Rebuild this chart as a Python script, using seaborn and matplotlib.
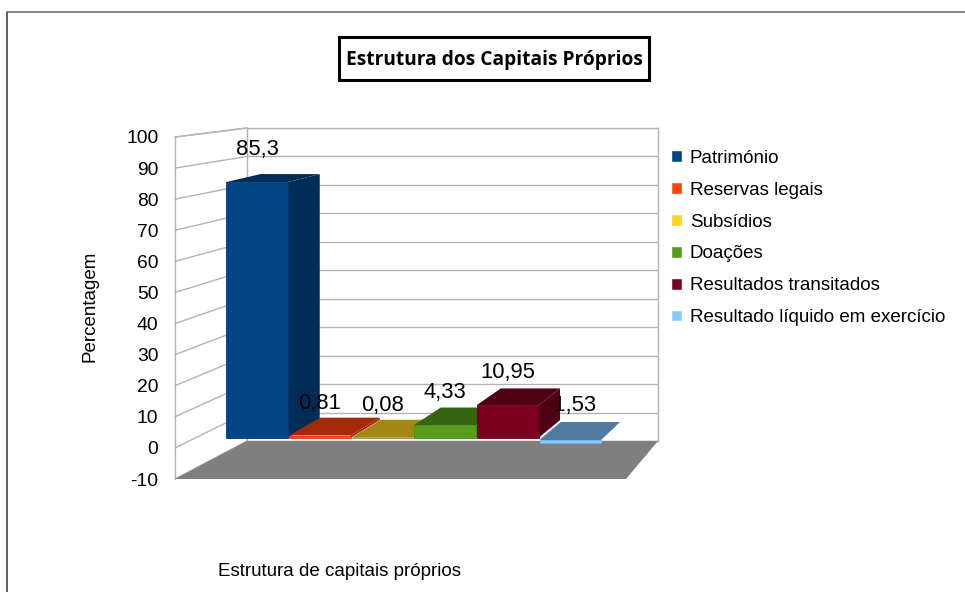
import matplotlib
matplotlib.use("Agg")
import matplotlib.pyplot as plt
import seaborn as sns
import pandas as pd
from matplotlib.patches import ConnectionPatch, Polygon, Rectangle
from matplotlib.lines import Line2D
from matplotlib.transforms import IdentityTransform

categorias = ["Património", "Reservas legais", "Subsídios", "Doações",
              "Resultados transitados", "Resultado líquido em exercício"]
valores = [85.3, 0.81, 0.08, 4.33, 10.95, -1.53]
cores_frente = ["#004586", "#ff420e", "#ffd320", "#579d1c", "#7e0021", "#83caff"]
cores_topo = ["#002d58", "#a32b09", "#a38714", "#386512", "#4f0015", "#4f7ba0"]
cores_lado = ["#002d58", "#a32b09", "#a38714", "#386512", "#4f0015", "#4f7ba0"]
cores_borda = ["#003a72", "#e83a0c", "#a38714", "#4a8a18", "#6e001c", "#6db4ea"]
marcas_y = list(range(-10, 101, 10))

titulo = "Estrutura dos Capitais Próprios"
rotulo_x = "Estrutura de capitais próprios"
rotulo_y = "Percentagem"

W, H = 965, 592
sns.set_theme(style="white")
plt.rcParams["font.family"] = ["Liberation Sans", "DejaVu Sans"]
plt.rcParams["axes.unicode_minus"] = False
COR_GRELHA = "#b3b3b3"
FS = 13.5

fig = plt.figure(figsize=(W / 100, H / 100), dpi=100, facecolor="white")


def caixa(x0, ytop, x1, ybot):
    """Axes rectangle from pixel edges (origin top-left)."""
    return [x0 / W, 1 - ybot / H, (x1 - x0) / W, (ybot - ytop) / H]


# back wall
ax_fundo = fig.add_axes(caixa(247, 128, 658, 441), zorder=1)
ax_fundo.set_ylim(-10, 100)
ax_fundo.set_xlim(0, 1)
ax_fundo.set_yticks(marcas_y)
ax_fundo.set_xticks([])
ax_fundo.tick_params(labelleft=False, length=0)
ax_fundo.grid(axis="y", color=COR_GRELHA, lw=1)
ax_fundo.set_axisbelow(True)
for s in ax_fundo.spines.values():
    s.set_color(COR_GRELHA)
    s.set_linewidth(1)

# front plane: carries the value axis
ax_frente = fig.add_axes(caixa(175, 137, 626, 479), zorder=2)
ax_frente.patch.set_alpha(0)
ax_frente.set_ylim(-10, 100)
ax_frente.set_xlim(0, 1)
ax_frente.set_yticks(marcas_y)
ax_frente.set_xticks([])
ax_frente.tick_params(axis="y", length=0, pad=12, labelsize=13.9, labelcolor="black")
for nome, s in ax_frente.spines.items():
    s.set_visible(nome == "left")
    s.set_color(COR_GRELHA)
    s.set_linewidth(1)
ax_frente.set_ylabel(rotulo_y, fontsize=FS, color="black")
ax_frente.yaxis.set_label_coords((99 - 175) / 451, (479 - 306) / 342)
ax_frente.set_xlabel(rotulo_x, fontsize=FS, color="black")
ax_frente.xaxis.set_label_coords((340 - 175) / 451, (479 - 563) / 342)
ax_frente.xaxis.label.set_va("top")

# side wall lines joining front and back planes
for v in marcas_y + [100]:
    fig.add_artist(ConnectionPatch(xyA=(0, v), coordsA=ax_frente.transData,
                                   xyB=(0, v), coordsB=ax_fundo.transData,
                                   color=COR_GRELHA, lw=1, zorder=1.5))

# floor
fig.canvas.draw()
pts = [ax_frente.transData.transform((0, -10)), ax_fundo.transData.transform((0, -10)),
       ax_fundo.transData.transform((1, -10)), ax_frente.transData.transform((1, -10))]
fig.add_artist(Polygon(pts, closed=True, transform=IdentityTransform(),
                       facecolor="#7f7f7f", edgecolor="none", zorder=1.8))

# bars
PX_CAT = (602 - 226) / 6
PX_VAL = 3.0
ax_bar = fig.add_axes(caixa(226, 130, 602, 478), zorder=3)
df = pd.DataFrame({"categoria": categorias, "valor": valores})
sns.barplot(data=df, x="categoria", y="valor", hue="categoria", hue_order=categorias,
            palette=cores_frente, width=0.985, ax=ax_bar, saturation=1, errorbar=None,
            legend=True)
ax_bar.set_xlim(-0.5, 5.5)
ax_bar.set_ylim(-(478 - 438) / PX_VAL, (438 - 130) / PX_VAL)


def prof_x(x):
    px = 226 + PX_CAT * (x + 0.5)
    return (32 - 0.0414 * (px - 288)) / PX_CAT


def prof_y(v):
    return (18 - 0.0389 * max(v, 0) * PX_VAL) / PX_VAL


for i, (barra, v) in enumerate(zip(ax_bar.patches, valores)):
    e, d = i - 0.5, i + 0.485
    topo = max(v, 0)
    base = min(v, 0)
    # a bar below zero shows its upper face slightly lower than the zero line
    ajuste = -2 / PX_VAL if v < 0 else 0
    barra.set_zorder(4 + 2 * i)
    barra.set_edgecolor(cores_borda[i])
    barra.set_linewidth(0.6)
    if v < 0:
        barra.set_y(topo + ajuste)
        barra.set_height(base - ajuste)
    ty = topo + ajuste
    ax_bar.add_patch(Polygon([(e, ty), (e + prof_x(e), ty + prof_y(topo)),
                              (d + prof_x(d), ty + prof_y(topo)), (d, ty)],
                             closed=True, facecolor=cores_topo[i], edgecolor="none",
                             zorder=3 + 2 * i, clip_on=False))
    if v > 0:
        ax_bar.add_patch(Polygon([(d, topo), (d + prof_x(d), topo + prof_y(topo)),
                                  (d + prof_x(d), prof_y(0)), (d, 0)],
                                 closed=True, facecolor=cores_lado[i], edgecolor="none",
                                 zorder=3 + 2 * i, clip_on=False))
    ax_bar.annotate(str(v).replace(".", ","), (i, topo), xytext=(0, 23.2),
                    textcoords="offset points", ha="center", va="center",
                    fontsize=15.8, color="black", zorder=30, annotation_clip=False)

sns.move_legend(ax_bar, loc="upper left", bbox_to_anchor=(670.5 / W, 1 - 150 / H),
                bbox_transform=fig.transFigure, frameon=False, title=None, fontsize=FS,
                handlelength=0.6, handleheight=0.6, labelspacing=0.79, handletextpad=0.42,
                borderpad=0, borderaxespad=0, labelcolor="black")
ax_bar.axis("off")

# title box and outer frame
fig.add_artist(Rectangle((339 / W, 1 - 80 / H), 310 / W, 43 / H, transform=fig.transFigure,
                         facecolor="white", edgecolor="black", lw=2.2, zorder=5))
fig.text(494 / W, 1 - 60 / H, titulo, ha="center", va="center", fontsize=13.8,
         fontweight="bold", family=["Open Sans", "DejaVu Sans"], color="black", zorder=6)
fig.add_artist(Line2D([7 / W, 7 / W], [1 - 12 / H, 0], color="#333333", lw=1.1,
                      transform=fig.transFigure, zorder=5))
fig.add_artist(Line2D([7 / W, 1], [1 - 12 / H, 1 - 12 / H], color="#666666", lw=1.1,
                      transform=fig.transFigure, zorder=5))

fig.savefig("out.png", dpi=100, facecolor="white")
